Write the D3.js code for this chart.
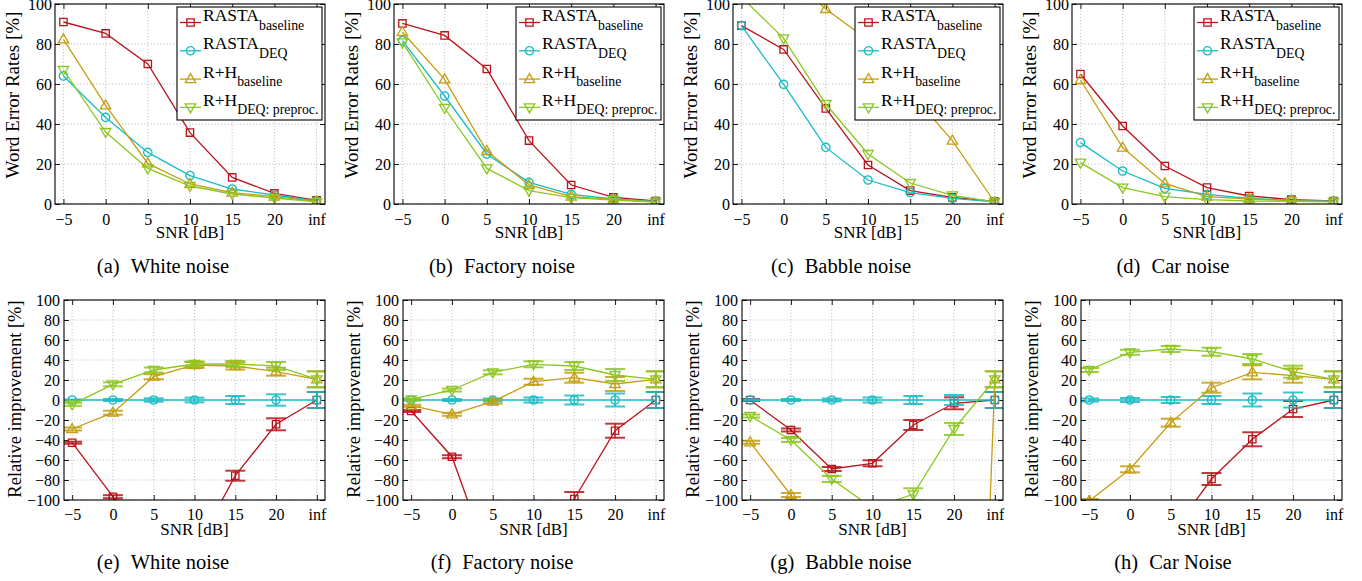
<!DOCTYPE html>
<html><head><meta charset="utf-8">
<script src="https://cdn.jsdelivr.net/npm/d3@7"></script>
<style>
body{margin:0;background:#fff}
svg text{font-family:"Liberation Serif","Times New Roman",Times,"DejaVu Serif",serif !important;fill:#000}
</style>
</head><body>
<svg id="chart" width="1362" height="581"></svg>
<script>
// ---------- data ----------
const snrValues = [-5, 0, 5, 10, 15, 20, 25];
const snrLabels = ["\u22125", "0", "5", "10", "15", "20", "inf"];
const werTicks = [0, 20, 40, 60, 80, 100];
const relTicks = [-100, -80, -60, -40, -20, 0, 20, 40, 60, 80, 100];

const seriesMain = ["RASTA", "RASTA", "R+H", "R+H"];
const seriesSub = ["baseline", "DEQ", "baseline", "DEQ: preproc."];
const seriesColors = ["#b8141b", "#17bcc4", "#c59e12", "#8cc71e"];
const seriesMarkers = ["square", "circle", "triangleUp", "triangleDown"];

const werCaptions = ["(a)", "(b)", "(c)", "(d)"];
const werNames = ["White noise", "Factory noise", "Babble noise", "Car noise"];
const relCaptions = ["(e)", "(f)", "(g)", "(h)"];
const relNames = ["White noise", "Factory noise", "Babble noise", "Car Noise"];

// Word error rates [%]
const werWhiteRastaBase = [91, 85.3, 70, 35.7, 13.3, 5.3, 1.8];
const werWhiteRastaDeq  = [64, 43.3, 25.8, 14.2, 7.5, 4.5, 1.5];
const werWhiteRhBase    = [82.3, 49.3, 20.3, 10, 5.7, 3.7, 1.3];
const werWhiteRhDeq     = [67, 36, 17.8, 9, 5, 3, 1.1];

const werFactoryRastaBase = [90.3, 84.3, 67.5, 31.7, 9.5, 3.3, 1.5];
const werFactoryRastaDeq  = [81.7, 54, 25, 10.8, 4.8, 2.5, 1.3];
const werFactoryRhBase    = [86, 62.3, 26.5, 9.5, 3.7, 2.3, 1.1];
const werFactoryRhDeq     = [80.8, 48, 17.8, 6.7, 3.2, 2, 1.0];

const werBabbleRastaBase = [89.2, 77.3, 47.8, 19.5, 6.7, 3.3, 1.3];
const werBabbleRastaDeq  = [89.2, 59.8, 28.3, 12, 5.7, 2.8, 1.1];
const werBabbleRhBase    = [126, 117, 97.5, 82, 56, 31.7, 1.0];
const werBabbleRhDeq     = [103.5, 82.8, 50, 25, 10.5, 4.3, 1.1];

const werCarRastaBase = [65, 39, 19, 8.2, 4, 2.2, 1.5];
const werCarRastaDeq  = [30.7, 16.5, 7.8, 4.8, 2.8, 1.8, 1.4];
const werCarRhBase    = [62, 28.2, 10.3, 3.7, 2.5, 1.7, 1.2];
const werCarRhDeq     = [20.7, 8.2, 3.7, 2.2, 1.5, 1.3, 1.1];

// Relative improvement [%]
const relWhiteRastaBase = [-42.7, -96.7, -171, -151, -75.7, -24.3, 0];
const relWhiteRastaDeq  = [0, 0, 0, 0, 0, 0, 0];
const relWhiteRhBase    = [-29, -12.7, 23.3, 35, 34, 28.3, 20.7];
const relWhiteRhDeq     = [-4.3, 15.7, 30, 36, 36, 34, 20.7];

const relFactoryRastaBase = [-11, -56.7, -170, -193, -99, -30.7, 0];
const relFactoryRastaDeq  = [0, 0, 0, 0, 0, 0, 0];
const relFactoryRhBase    = [-5.7, -14.3, -1.7, 18.3, 22.3, 16, 20.7];
const relFactoryRhDeq     = [0.7, 10, 27.7, 35.7, 34, 25, 20.7];

const relBabbleRastaBase = [0, -30, -69, -63.3, -25, -3.3, 0];
const relBabbleRastaDeq  = [0, 0, 0, 0, 0, 0, 0];
const relBabbleRhBase    = [-42.3, -95, -244, -583, -882, -1032, 20.7];
const relBabbleRhDeq     = [-16, -40, -79, -108, -94.3, -29, 20.7];

const relCarRastaBase = [-112, -136, -135, -79, -39.3, -9, 0];
const relCarRastaDeq  = [0, 0, 0, 0, 0, 0, 0];
const relCarRhBase    = [-101, -69.3, -22.7, 12.3, 27.7, 24.3, 20.7];
const relCarRhDeq     = [30, 47.7, 51, 48.3, 41, 28.3, 20.7];

// Error bar half-widths [%]
const errWhiteRastaBase = [1, 1.5, 3, 4, 5, 6, 8];
const errWhiteRastaDeq  = [0.5, 1, 1.7, 2.3, 4, 5.7, 8];
const errWhiteRhBase    = [1.5, 2, 2.5, 3, 3.5, 4, 8];
const errWhiteRhDeq     = [1.5, 2, 2.5, 2.5, 3, 4, 8];

const errFactoryRastaBase = [1, 1.5, 3, 4, 7, 7, 8];
const errFactoryRastaDeq  = [0.5, 1, 1.5, 2.5, 4.5, 6.5, 8];
const errFactoryRhBase    = [1, 1.5, 2, 3, 5, 7, 8];
const errFactoryRhDeq     = [1, 1.5, 2, 3, 4, 6, 8];

const errBabbleRastaBase = [1, 1.5, 2, 3, 5, 6, 8];
const errBabbleRastaDeq  = [0.5, 1, 1.5, 2.5, 4, 5, 8];
const errBabbleRhBase    = [1.5, 2, 3, 4, 5, 6, 8];
const errBabbleRhDeq     = [1.5, 2, 3, 4, 6, 6, 8];

const errCarRastaBase = [2, 3, 4, 6, 7, 8, 8];
const errCarRastaDeq  = [1.5, 2, 3, 4, 6.5, 7.5, 8];
const errCarRhBase    = [2, 3, 4, 5, 7, 7, 8];
const errCarRhDeq     = [2, 2.5, 3, 4, 5, 6, 8];

const werPanels = [
  [werWhiteRastaBase, werWhiteRastaDeq, werWhiteRhBase, werWhiteRhDeq],
  [werFactoryRastaBase, werFactoryRastaDeq, werFactoryRhBase, werFactoryRhDeq],
  [werBabbleRastaBase, werBabbleRastaDeq, werBabbleRhBase, werBabbleRhDeq],
  [werCarRastaBase, werCarRastaDeq, werCarRhBase, werCarRhDeq]
];
const relPanels = [
  [relWhiteRastaBase, relWhiteRastaDeq, relWhiteRhBase, relWhiteRhDeq],
  [relFactoryRastaBase, relFactoryRastaDeq, relFactoryRhBase, relFactoryRhDeq],
  [relBabbleRastaBase, relBabbleRastaDeq, relBabbleRhBase, relBabbleRhDeq],
  [relCarRastaBase, relCarRastaDeq, relCarRhBase, relCarRhDeq]
];
const errPanels = [
  [errWhiteRastaBase, errWhiteRastaDeq, errWhiteRhBase, errWhiteRhDeq],
  [errFactoryRastaBase, errFactoryRastaDeq, errFactoryRhBase, errFactoryRhDeq],
  [errBabbleRastaBase, errBabbleRastaDeq, errBabbleRhBase, errBabbleRhDeq],
  [errCarRastaBase, errCarRastaDeq, errCarRhBase, errCarRhDeq]
];

// ---------- layout ----------
const FONT = "'Liberation Serif','Times New Roman',Times,'DejaVu Serif',serif";
const colStep = 339;
const captionCenters = [163, 502, 841, 1173];
const svg = d3.select("#chart");
const markerPath = {
  square: d3.symbol(d3.symbolSquare, 54)(),
  circle: d3.symbol(d3.symbolCircle, 54)(),
  triangleUp: "M0,-5.5L5.2,3.5L-5.2,3.5Z",
  triangleDown: "M0,5.5L5.2,-3.5L-5.2,-3.5Z"
};

function drawPanel(opt) {
  const {idx, left, right, top, bottom, yDomain, yTicks, yLabel, series, errors,
         legend, caption, name, captionY, tickBaseline, snrBaseline, yPad, yLabelX} = opt;
  const x = d3.scaleLinear().domain([-6, 26]).range([left, right]);
  const y = d3.scaleLinear().domain(yDomain).range([bottom, top]);
  const g = svg.append("g").attr("font-family", FONT);
  const clipId = "clip" + idx;
  svg.append("clipPath").attr("id", clipId).append("rect")
    .attr("x", left).attr("y", top).attr("width", right - left).attr("height", bottom - top);

  // grid
  const grid = g.append("g").attr("stroke", "#a8a8a8").attr("stroke-width", 0.8)
    .attr("stroke-dasharray", "1,2.2");
  snrValues.forEach(v => grid.append("line").attr("x1", x(v)).attr("x2", x(v))
    .attr("y1", top).attr("y2", bottom));
  yTicks.forEach(v => grid.append("line").attr("x1", left).attr("x2", right)
    .attr("y1", y(v)).attr("y2", y(v)));

  // axes (inward ticks on all sides)
  const fmt = (d, i) => snrLabels[i];
  const ax = g.append("g").attr("transform", `translate(0,${bottom})`)
    .call(d3.axisBottom(x).tickValues(snrValues).tickFormat(fmt).tickSize(-5).tickPadding(0));
  ax.selectAll("text").attr("y", tickBaseline).attr("dy", null).style("font-size", "16px");
  g.append("g").attr("transform", `translate(0,${top})`)
    .call(d3.axisTop(x).tickValues(snrValues).tickFormat("").tickSize(-5));
  const ay = g.append("g").attr("transform", `translate(${left},0)`)
    .call(d3.axisLeft(y).tickValues(yTicks).tickSize(-5).tickPadding(yPad));
  ay.selectAll("text").style("font-size", "16px");
  g.append("g").attr("transform", `translate(${right},0)`)
    .call(d3.axisRight(y).tickValues(yTicks).tickFormat("").tickSize(-5));
  g.selectAll(".domain").remove();
  g.selectAll("g").attr("font-family", FONT);
  g.selectAll(".tick line").attr("stroke", "#000").attr("stroke-width", 0.9);
  g.selectAll(".tick text").style("font-family", FONT).attr("fill", "#000");

  // data
  const plot = g.append("g").attr("clip-path", `url(#${clipId})`);
  const line = d3.line().x((d, i) => x(snrValues[i])).y(d => y(d));
  series.forEach((vals, s) => {
    const col = seriesColors[s];
    const sg = plot.append("g");
    if (errors) {
      const errs = errors[s];
      vals.forEach((v, i) => {
        const cx = x(snrValues[i]);
        const lo = y(v - errs[i]), hi = y(v + errs[i]);
        sg.append("line").attr("x1", cx).attr("x2", cx).attr("y1", lo).attr("y2", hi)
          .attr("stroke", col).attr("stroke-width", 1.6).attr("opacity", 0.9);
        [lo, hi].forEach(yy => sg.append("line").attr("x1", cx - 10).attr("x2", cx + 10)
          .attr("y1", yy).attr("y2", yy).attr("stroke", col).attr("stroke-width", 2).attr("opacity", 0.85));
      });
    }
    sg.append("path").attr("d", line(vals)).attr("fill", "none")
      .attr("stroke", col).attr("stroke-width", 1.3);
    sg.selectAll("path.mk").data(vals).join("path").attr("class", "mk")
      .attr("d", markerPath[seriesMarkers[s]])
      .attr("transform", (d, i) => `translate(${x(snrValues[i])},${y(d)})`)
      .attr("fill", "none").attr("stroke", col).attr("stroke-width", 1.3);
  });

  // box
  g.append("rect").attr("x", left).attr("y", top).attr("width", right - left)
    .attr("height", bottom - top).attr("fill", "none").attr("stroke", "#000").attr("stroke-width", 1.1);

  // legend
  if (legend) {
    const lw = 145, lh = 113;
    const lx = right - 3 - lw, ly = top + 3;
    const lg = g.append("g").attr("transform", `translate(${lx},${ly})`);
    lg.append("rect").attr("width", lw).attr("height", lh).attr("fill", "#fff")
      .attr("stroke", "#000").attr("stroke-width", 1.1);
    seriesMain.forEach((m, s) => {
      const ey = 15.5 + s * 28.3;
      lg.append("line").attr("x1", 3).attr("x2", 24).attr("y1", ey).attr("y2", ey)
        .attr("stroke", seriesColors[s]).attr("stroke-width", 1.3);
      lg.append("path").attr("d", markerPath[seriesMarkers[s]])
        .attr("transform", `translate(13.5,${ey})`).attr("fill", "none")
        .attr("stroke", seriesColors[s]).attr("stroke-width", 1.3);
      const t = lg.append("text").attr("x", 26).attr("y", ey - 1.5).style("font-size", "17.5px");
      t.append("tspan").text(m);
      t.append("tspan").attr("dy", 8.5).style("font-size", "13.8px").text(seriesSub[s]);
    });
  }

  // labels
  g.append("text").attr("x", (left + right) / 2).attr("y", snrBaseline)
    .attr("text-anchor", "middle").style("font-size", "17px").text("SNR [dB]");
  g.append("text").attr("transform", `translate(${yLabelX},${(top + bottom) / 2 - opt.yLabelShift}) rotate(-90)`)
    .attr("text-anchor", "middle").attr("dominant-baseline", "central")
    .style("font-size", opt.yLabelSize).text(yLabel);
  const ct = g.append("text").attr("x", captionCenters[idx % 4]).attr("y", captionY)
    .attr("text-anchor", "middle").style("font-size", "20.5px");
  ct.append("tspan").text(caption);
  ct.append("tspan").attr("dx", 11).text(name);
}

for (let c = 0; c < 4; c++) {
  const off = c * colStep;
  drawPanel({
    idx: c, left: 55 + off, right: 325 + off, top: 4, bottom: 204,
    yDomain: [0, 100], yTicks: werTicks, yLabel: "Word Error Rates [%]",
    series: werPanels[c], errors: null, legend: true,
    caption: werCaptions[c], name: werNames[c], captionY: 273,
    tickBaseline: 21, snrBaseline: 238, yPad: 3, yLabelX: 12 + off, yLabelShift: 9,
    yLabelSize: "19px"
  });
  drawPanel({
    idx: c + 4, left: 64 + off, right: 325 + off, top: 300, bottom: 500,
    yDomain: [-100, 100], yTicks: relTicks, yLabel: "Relative improvement [%]",
    series: relPanels[c], errors: errPanels[c], legend: false,
    caption: relCaptions[c], name: relNames[c], captionY: 569,
    tickBaseline: 20, snrBaseline: 535, yPad: 4, yLabelX: 15 + off, yLabelShift: 1,
    yLabelSize: "18.5px"
  });
}
</script>
</body></html>
